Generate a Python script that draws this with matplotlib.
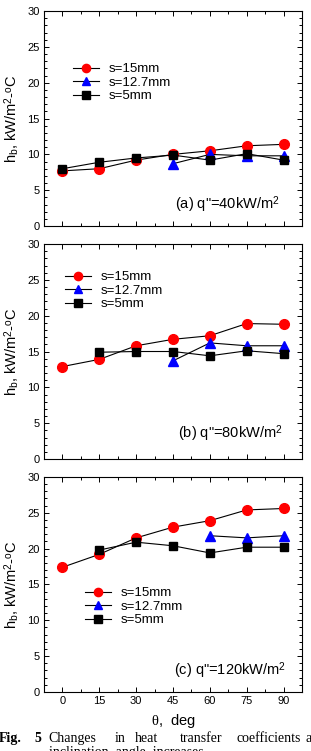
import numpy as np
import matplotlib
matplotlib.use("Agg")
import matplotlib.pyplot as plt
from matplotlib.ticker import MultipleLocator

plt.rcParams['font.family'] = ['Liberation Sans', 'DejaVu Sans']
plt.rcParams['mathtext.fontset'] = 'custom'
plt.rcParams['mathtext.rm'] = 'Liberation Sans'
plt.rcParams['mathtext.it'] = 'Liberation Serif'

# -------------------------------
# data
# -------------------------------
theta = [0, 15, 30, 45, 60, 75, 90]
theta_127 = [45, 60, 75, 90]
theta_5 = [0, 15, 30, 45, 60, 75, 90]

# (a) q"=40 kW/m2
a_s15 = [7.7, 8.0, 9.2, 10.0, 10.5, 11.2, 11.4]
a_s127 = [8.7, 10.0, 9.8, 9.8]
a_s5 = [8.0, 8.9, 9.5, 9.9, 9.2, 10.1, 9.2]

# (b) q"=80 kW/m2
b_s15 = [12.9, 13.9, 15.8, 16.7, 17.2, 18.9, 18.8]
b_theta127 = [45, 60, 75, 90]
b_s127 = [13.7, 16.2, 15.8, 15.8]
b_theta5 = [15, 30, 45, 60, 75, 90]
b_s5 = [14.9, 15.0, 15.0, 14.4, 15.1, 14.7]

# (c) q"=120 kW/m2
c_s15 = [17.4, 19.2, 21.5, 23.0, 23.9, 25.4, 25.6]
c_theta127 = [60, 75, 90]
c_s127 = [21.8, 21.5, 21.8]
c_theta5 = [15, 30, 45, 60, 75, 90]
c_s5 = [19.8, 20.9, 20.4, 19.4, 20.2, 20.2]

labels = ['s=15mm', 's=12.7mm', 's=5mm']
notes = ['(a) q"=40kW/m$^{\\rm 2}$', '(b) q"=80kW/m$^{\\rm 2}$', '(c) q"=120kW/m$^{\\rm 2}$']

caption_words = ['Changes', 'in', 'heat', 'transfer', 'coefficients', 'as']
caption2 = 'inclination  angle  increases'

panels = [
    (theta, a_s15, theta_127, a_s127, theta_5, a_s5),
    (theta, b_s15, b_theta127, b_s127, b_theta5, b_s5),
    (theta, c_s15, c_theta127, c_s127, c_theta5, c_s5),
]

# -------------------------------
# figure
# -------------------------------
fig = plt.figure(figsize=(3.11, 7.51), dpi=100)
left, width, height = 0.1415, 0.8296, 0.2863
bottoms = [0.699, 0.3888, 0.0786]
legend_pos = [(0.112, 0.758), (0.081, 0.874), (0.159, 0.488)]
note_pos = [(0.915, 0.098), (0.927, 0.12), (0.94, 0.098)]

for i, (x1, y1, x2, y2, x3, y3) in enumerate(panels):
    ax = fig.add_axes([left, bottoms[i], width, height])
    ax.plot(x1, y1, '-o', color='black', lw=0.8, mfc='red', mec='red', ms=7, label=labels[0], zorder=3)
    ax.plot(x2, y2, '-^', color='black', lw=0.8, mfc='blue', mec='blue', ms=7, label=labels[1], zorder=3)
    ax.plot(x3, y3, '-s', color='black', lw=0.8, mfc='black', mec='black', ms=6, label=labels[2], zorder=3)

    ax.set_xlim(-7.5, 97.5)
    ax.set_ylim(0, 30)
    ax.xaxis.set_major_locator(MultipleLocator(15))
    ax.xaxis.set_minor_locator(MultipleLocator(7.5))
    ax.yaxis.set_major_locator(MultipleLocator(5))
    ax.yaxis.set_minor_locator(MultipleLocator(1))
    ax.tick_params(which='both', direction='in', top=True, right=True, labelsize=8, width=0.7)
    ax.tick_params(which='major', length=3.5, pad=3)
    ax.tick_params(which='minor', length=2)
    for sp in ax.spines.values():
        sp.set_linewidth(0.8)
    if i < 2:
        ax.set_xticklabels([])

    ax.set_ylabel('h$_{\\rm b}$, kW/m$^{\\rm 2}$-$^{\\rm o}$C', fontsize=10.5, labelpad=4)
    ax.text(note_pos[i][0], note_pos[i][1], notes[i], transform=ax.transAxes,
            ha='right', va='center', fontsize=10.5)
    ax.legend(loc='upper left', bbox_to_anchor=legend_pos[i], frameon=False, fontsize=9.5,
              handlelength=2.0, handletextpad=0.7, labelspacing=0.1, borderaxespad=0,
              borderpad=0, markerscale=0.85)

    if i == 2:
        ax.set_xlabel('$\\theta$,  deg', fontsize=10.5, labelpad=4)

# caption (justified words, runs off the edges like the source)
fig.text(-0.005, 0.012, 'Fig.', fontsize=10, fontweight='bold', family=['Liberation Serif'], va='baseline')
fig.text(0.112, 0.012, '5', fontsize=10, fontweight='bold', family=['Liberation Serif'], va='baseline')
word_x = [0.157, 0.37, 0.435, 0.578, 0.762, 0.981]
for w, xw in zip(caption_words, word_x):
    fig.text(xw, 0.012, w, fontsize=10, family=['Liberation Serif'], va='baseline')
fig.text(0.157, -0.006, caption2, fontsize=10, family=['Liberation Serif'], va='baseline')

fig.savefig('out.png', dpi=100)
